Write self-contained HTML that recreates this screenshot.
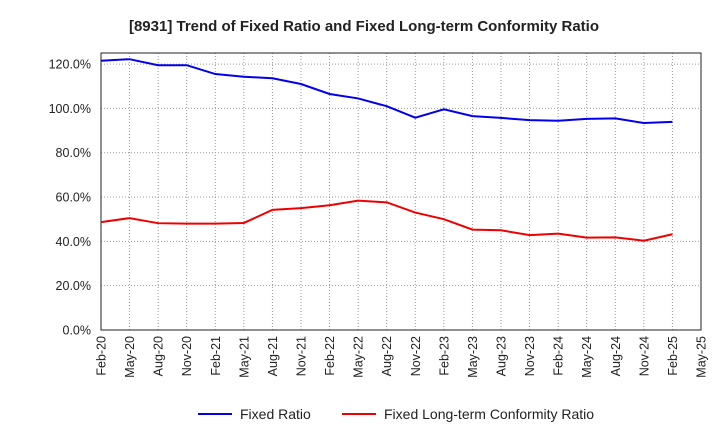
<!DOCTYPE html>
<html><head><meta charset="utf-8"><style>
body{margin:0;background:#fff;font-family:"Liberation Sans",Arial,sans-serif;}
svg text{font-family:"Liberation Sans",Arial,sans-serif;}
</style></head><body>
<svg id="chart" width="720" height="440" xmlns="http://www.w3.org/2000/svg">
<text x="364" y="31" text-anchor="middle" font-size="15" font-weight="bold" fill="#222">[8931]  Trend of Fixed Ratio and Fixed Long-term Conformity Ratio</text>
<g id="grid"></g><g id="axes"></g><g id="series"></g>
<g>
<line x1="198" y1="414" x2="232" y2="414" stroke="#0000ee" stroke-width="2"/>
<text x="240" y="419" font-size="14" fill="#222">Fixed Ratio</text>
<line x1="342" y1="414" x2="376" y2="414" stroke="#ee0000" stroke-width="2"/>
<text x="384" y="419" font-size="14" fill="#222">Fixed Long-term Conformity Ratio</text>
</g>
</svg>
<script>
const categories=["Feb-20","May-20","Aug-20","Nov-20","Feb-21","May-21","Aug-21","Nov-21","Feb-22","May-22","Aug-22","Nov-22","Feb-23","May-23","Aug-23","Nov-23","Feb-24","May-24","Aug-24","Nov-24","Feb-25","May-25"];
const fixedRatio=[121.5,122.2,119.5,119.5,115.5,114.3,113.6,111,106.5,104.5,101,95.8,99.6,96.5,95.7,94.7,94.4,95.3,95.5,93.4,93.9];
const conformityRatio=[48.7,50.5,48.2,48,48,48.3,54.2,55,56.3,58.4,57.6,53,50,45.3,45,42.8,43.5,41.7,41.8,40.3,43.2];
const yTicks=[0,20,40,60,80,100,120];
const yTickLabels=["0.0%","20.0%","40.0%","60.0%","80.0%","100.0%","120.0%"];
const L=101,R=701,T=53,B=330,YMAX=125;
const NS="http://www.w3.org/2000/svg";
const x=i=>L+i*(R-L)/(categories.length-1);
const y=v=>B-v/YMAX*(B-T);
function mk(tag,attrs,parent){const e=document.createElementNS(NS,tag);for(const k in attrs)e.setAttribute(k,attrs[k]);document.getElementById(parent).appendChild(e);return e;}
categories.forEach((c,i)=>{
 const g=mk("line",{x1:x(i),x2:x(i),y1:T,y2:B,stroke:"#999","stroke-dasharray":"1,2","stroke-width":1},"grid");
 
 
 const t=mk("text",{x:0,y:0,"font-size":12.5,fill:"#222","text-anchor":"end",transform:`translate(${x(i)+4.5},336) rotate(-90)`},"axes");
 t.textContent=c;
 
 
});
yTicks.forEach((v,i)=>{
 const g=mk("line",{x1:L,x2:R,y1:y(v),y2:y(v),stroke:"#999","stroke-dasharray":"1,2","stroke-width":1},"grid");
 
 
 const t=mk("text",{x:91,y:y(v)+4.5,"font-size":12.5,fill:"#222","text-anchor":"end"},"axes");
 t.textContent=yTickLabels[i];
 
 
});
const frame=mk("rect",{x:L,y:T,width:R-L,height:B-T,fill:"none",stroke:"#222","stroke-width":1},"axes");


const p1=mk("polyline",{points:fixedRatio.map((v,i)=>x(i)+","+y(v)).join(" "),fill:"none",stroke:"#0000ee","stroke-width":2},"series");


const p2=mk("polyline",{points:conformityRatio.map((v,i)=>x(i)+","+y(v)).join(" "),fill:"none",stroke:"#ee0000","stroke-width":2},"series");


</script>
</body></html>
